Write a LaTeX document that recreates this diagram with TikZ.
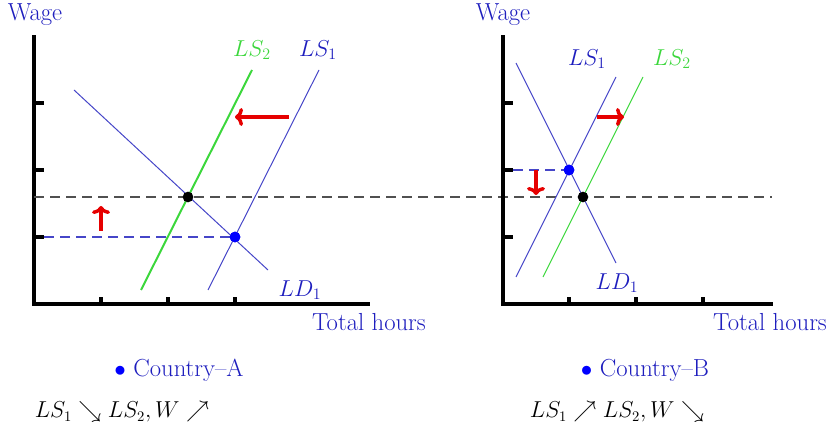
\documentclass[tikz,border=0pt]{standalone}
\usetikzlibrary{arrows.meta}
\definecolor{txtblue}{RGB}{30,30,190}
\definecolor{lineblue}{RGB}{70,70,200}
\definecolor{dotblue}{RGB}{0,0,255}
\definecolor{lgreen}{RGB}{60,215,60}
\definecolor{arrred}{RGB}{230,0,0}
\definecolor{dashgray}{RGB}{80,80,80}
\tikzset{
  axis/.style={line width=2.3pt, line cap=rect},
  tickmark/.style={line width=2.3pt},
  curveblue/.style={lineblue, line width=0.75pt},
  curvegreen/.style={lgreen, line width=0.75pt},
  curvegreenthick/.style={lgreen, line width=1.5pt},
  dashblk/.style={dashgray, line width=0.9pt, dash pattern=on 7.5pt off 4.5pt},
  dashblu/.style={lineblue, line width=0.9pt, dash pattern=on 7.5pt off 4.5pt},
  redarrow/.style={arrred, line width=2.6pt, -{To[length=6pt,width=13.5pt]}},
  dotnode/.style={circle, inner sep=0pt, minimum size=8pt},
  lab/.style={inner sep=0pt, font=\fontsize{18.5}{22}\selectfont},
  eff/.style={inner sep=0pt, font=\fontsize{16}{20}\selectfont},
}
\begin{document}
\begin{tikzpicture}[x=0.75pt,y=-0.75pt]
\useasboundingbox (0,0) rectangle (835,438);
% ---------- Left chart ----------
\coordinate (AO) at (34,304);
\coordinate (AY) at (34,37);
\coordinate (AX) at (368,304);
\draw[axis] (AY) -- (AO) -- (AX);
\foreach \y/\n in {103/a,170/b,237/c} {
  \coordinate (Ly\n) at (34,\y); \coordinate (Lye\n) at (44,\y);
  \draw[tickmark] (Ly\n) -- (Lye\n);
}
\foreach \x/\n in {101/a,168/b,235/c} {
  \coordinate (Lx\n) at (\x,304); \coordinate (Lxe\n) at (\x,297);
  \draw[tickmark] (Lx\n) -- (Lxe\n);
}
\node[lab, txtblue] (wageA) at (35,15) {Wage};
\node[lab, txtblue] (hoursA) at (369,322) {Total hours};
% curves
\coordinate (LDa1) at (74,90); \coordinate (LDa2) at (268,270);
\coordinate (LSa21) at (141,290); \coordinate (LSa22) at (252,70);
\coordinate (LSa11) at (208,290); \coordinate (LSa12) at (319,70);
\coordinate (DashL1) at (34,197); \coordinate (DashR1) at (772,197);
\coordinate (BdashA) at (44,237);
\draw[dashblk] (DashL1) -- (DashR1);
\node[dotnode, fill=dotblue] (blueA) at (235,237) {};
\draw[dashblu] (BdashA) -- (blueA.center);
\draw[curveblue] (LDa1) -- (LDa2);
\draw[curvegreenthick] (LSa21) -- (LSa22);
\draw[curveblue] (LSa11) -- (LSa12);
\node[dotnode, fill=black] (blackA) at (188,197) {};
\node[dotnode, fill=dotblue] at (blueA) {};
\node[lab, lgreen] (lsA2) at (252,50) {$LS_2$};
\node[lab, txtblue] (lsA1) at (318,50) {$LS_1$};
\node[lab, txtblue] (ldA1) at (300,290) {$LD_1$};
\coordinate (rA1) at (289,117); \coordinate (rA2) at (235,117);
\draw[redarrow] (rA1) -- (rA2);
\coordinate (uA1) at (101,231); \coordinate (uA2) at (101,206);
\draw[redarrow] (uA1) -- (uA2);
% ---------- Right chart ----------
\coordinate (BO) at (503,304);
\coordinate (BY) at (503,37);
\coordinate (BX) at (771,304);
\draw[axis] (BY) -- (BO) -- (BX);
\foreach \y/\n in {103/a,170/b,237/c} {
  \coordinate (Ry\n) at (503,\y); \coordinate (Rye\n) at (513,\y);
  \draw[tickmark] (Ry\n) -- (Rye\n);
}
\foreach \x/\n in {569/a,636/b,703/c} {
  \coordinate (Rx\n) at (\x,304); \coordinate (Rxe\n) at (\x,297);
  \draw[tickmark] (Rx\n) -- (Rxe\n);
}
\node[lab, txtblue] (wageB) at (503,15) {Wage};
\node[lab, txtblue] (hoursB) at (770,322) {Total hours};
\coordinate (LDb1) at (516,63); \coordinate (LDb2) at (616,263);
\coordinate (LSb11) at (516,277); \coordinate (LSb12) at (616,77);
\coordinate (LSb21) at (543,277); \coordinate (LSb22) at (643,77);
\coordinate (BdashB) at (513,170);
\node[dotnode, fill=dotblue] (blueB) at (569,170) {};
\draw[dashblu] (BdashB) -- (blueB.center);
\draw[curveblue] (LDb1) -- (LDb2);
\draw[curveblue] (LSb11) -- (LSb12);
\draw[curvegreen] (LSb21) -- (LSb22);
\node[dotnode, fill=black] (blackB) at (583,197) {};
\node[dotnode, fill=dotblue] at (blueB) {};
\node[lab, txtblue] (lsB1) at (587,59) {$LS_1$};
\node[lab, lgreen] (lsB2) at (672,59) {$LS_2$};
\node[lab, txtblue] (ldB1) at (617,283) {$LD_1$};
\coordinate (rB1) at (597,117); \coordinate (rB2) at (624,117);
\draw[redarrow] (rB1) -- (rB2);
\coordinate (dB1) at (536,170); \coordinate (dB2) at (536,195);
\draw[redarrow] (dB1) -- (dB2);
% ---------- Bottom texts ----------
\node[lab, txtblue] (ctyA) at (179,370) {{\color{dotblue}$\bullet$} Country--A};
\node[lab, txtblue] (ctyB) at (645,370) {{\color{dotblue}$\bullet$} Country--B};
\node[eff, black] (effA) at (122,412) {$LS_1 \searrow LS_2, W \nearrow$};
\node[eff, black] (effB) at (617,412) {$LS_1 \nearrow LS_2, W \searrow$};
\end{tikzpicture}
\end{document}
